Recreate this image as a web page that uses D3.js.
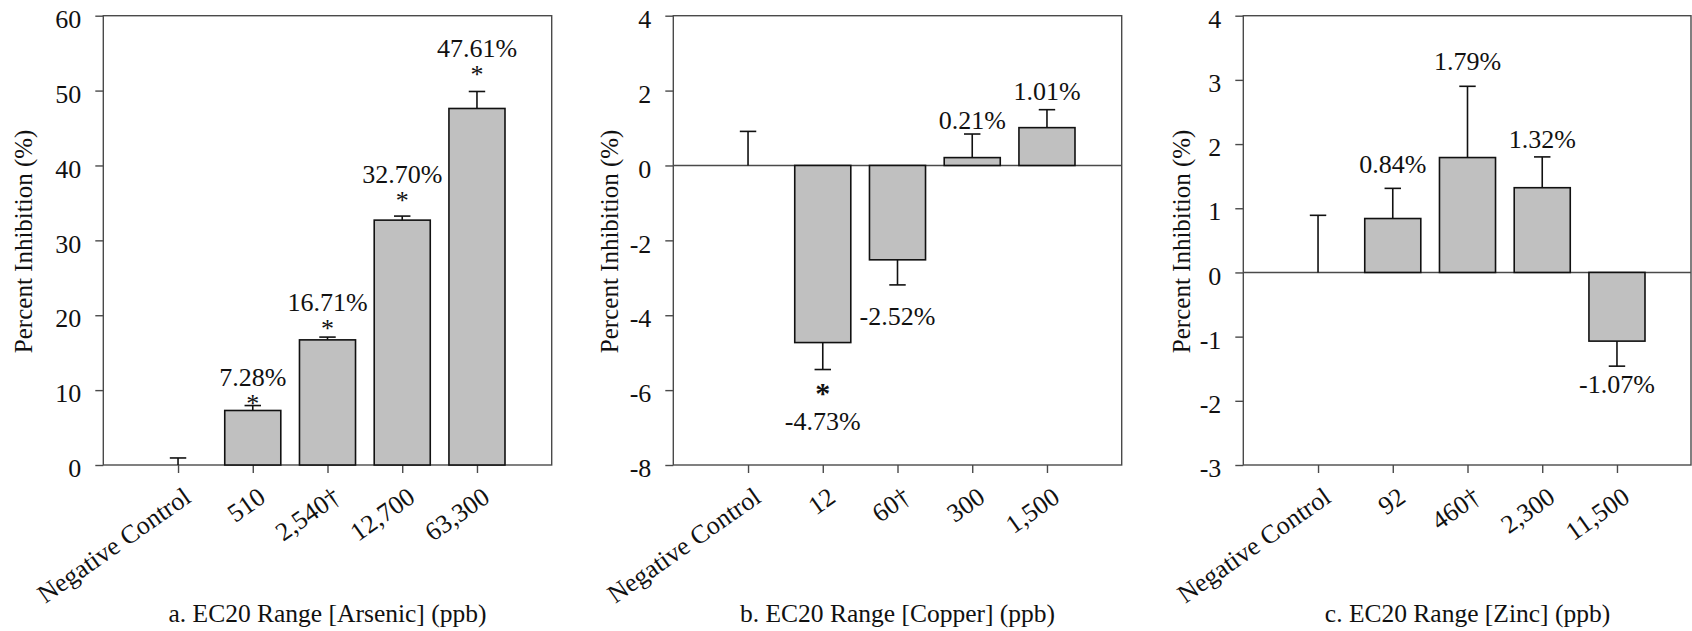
<!DOCTYPE html>
<html>
<head>
<meta charset="utf-8">
<script src="https://cdn.jsdelivr.net/npm/d3@7"></script>
<style>
  html, body { margin: 0; padding: 0; background: #fff; }
  svg { display: block; }
  svg text { font-family: "Liberation Serif", "Times New Roman", Times, "DejaVu Serif", serif !important; fill: #111; }
</style>
</head>
<body>
<svg id="chart" width="1692" height="631"></svg>
<script>
// ---------------- DATA ----------------
const categoriesA = ["Negative Control", "510", "2,540\u2020", "12,700", "63,300"];
const valuesA     = [0, 7.28, 16.71, 32.70, 47.61];
const errorsA     = [0.94, 0.66, 0.37, 0.54, 2.27];
const labelsA     = ["", "7.28%", "16.71%", "32.70%", "47.61%"];
const starsA      = [false, true, true, true, true];
const ticksA      = [0, 10, 20, 30, 40, 50, 60];
const titleA      = "a. EC20 Range [Arsenic] (ppb)";

const categoriesB = ["Negative Control", "12", "60\u2020", "300", "1,500"];
const valuesB     = [0, -4.73, -2.52, 0.21, 1.01];
const errorsB     = [0.91, 0.72, 0.67, 0.63, 0.48];
const labelsB     = ["", "-4.73%", "-2.52%", "0.21%", "1.01%"];
const starsB      = [false, true, false, false, false];
const ticksB      = [-8, -6, -4, -2, 0, 2, 4];
const titleB      = "b. EC20 Range [Copper] (ppb)";

const categoriesC = ["Negative Control", "92", "460\u2020", "2,300", "11,500"];
const valuesC     = [0, 0.84, 1.79, 1.32, -1.07];
const errorsC     = [0.89, 0.47, 1.11, 0.48, 0.39];
const labelsC     = ["", "0.84%", "1.79%", "1.32%", "-1.07%"];
const starsC      = [false, false, false, false, false];
const ticksC      = [-3, -2, -1, 0, 1, 2, 3, 4];
const titleC      = "c. EC20 Range [Zinc] (ppb)";

const yTitle = "Percent Inhibition (%)";

// ---------------- LAYOUT ----------------
const FONT = "'Liberation Serif', 'Times New Roman', Times, 'DejaVu Serif', serif";
const plotTop = 15.7, plotBottom = 465, plotWidth = 448.4;
const panels = [
  { left: 103.3, cats: categoriesA, vals: valuesA, errs: errorsA, labels: labelsA, stars: starsA, ticks: ticksA, title: titleA,
    gaps: [0, 20, 26, 33, 34], yTitleOffset: -71, starBold: false },
  { left: 673.3, cats: categoriesB, vals: valuesB, errs: errorsB, labels: labelsB, stars: starsB, ticks: ticksB, title: titleB,
    gaps: [0, 60, 40, 5, 10], yTitleOffset: -55, starBold: true },
  { left: 1243.3, cats: categoriesC, vals: valuesC, errs: errorsC, labels: labelsC, stars: starsC, ticks: ticksC, title: titleC,
    gaps: [0, 15, 16, 9, 27], yTitleOffset: -53, starBold: false }
];

const svg = d3.select("#chart");
const frameColor = "#4a4a4a";

panels.forEach(p => {
  const right = Math.min(p.left + plotWidth, 1691);
  const y = d3.scaleLinear()
    .domain([p.ticks[0], p.ticks[p.ticks.length - 1]])
    .range([plotBottom, plotTop]);
  const x = d3.scalePoint()
    .domain(p.cats)
    .range([p.left, p.left + plotWidth])
    .padding(1);
  const step = x.step();
  const barW = step * 0.75;
  const capW = step * 0.22;

  const g = svg.append("g").attr("font-family", FONT);

  // y axis ticks
  const yAxis = d3.axisLeft(y)
    .tickValues(p.ticks)
    .tickFormat(d => String(d))
    .tickSize(8)
    .tickSizeOuter(0)
    .tickPadding(14);
  const ya = g.append("g").attr("transform", `translate(${p.left},0)`).call(yAxis);
  ya.attr("font-family", FONT).attr("font-size", 26);
  ya.select(".domain").remove();
  ya.selectAll(".tick line").attr("stroke", frameColor).attr("stroke-width", 1.4);
  ya.selectAll(".tick text")
    .attr("dy", "0.45em")
    .attr("fill", "#111");

  // x axis ticks (at bottom)
  const xAxis = d3.axisBottom(x).tickSize(8).tickSizeOuter(0).tickFormat("");
  const xa = g.append("g").attr("transform", `translate(0,${plotBottom})`).call(xAxis);
  xa.select(".domain").remove();
  xa.selectAll(".tick line").attr("stroke", frameColor).attr("stroke-width", 1.4);

  // rotated category labels
  g.selectAll("text.cat")
    .data(p.cats)
    .join("text")
    .attr("class", "cat")
    .attr("transform", d => `translate(${x(d) + 4},${plotBottom + 21}) rotate(-35)`)
    .attr("dy", "0.7em")
    .attr("text-anchor", "end")
    .attr("font-size", 26)
    .text(d => d);

  // frame
  g.append("rect")
    .attr("x", p.left).attr("y", plotTop)
    .attr("width", right - p.left).attr("height", plotBottom - plotTop)
    .attr("fill", "none").attr("stroke", frameColor).attr("stroke-width", 1.4);

  // zero line
  if (p.ticks[0] < 0) {
    g.append("line")
      .attr("x1", p.left).attr("x2", right)
      .attr("y1", y(0)).attr("y2", y(0))
      .attr("stroke", frameColor).attr("stroke-width", 1.4);
  }

  const rows = p.cats.map((c, i) => ({ c, v: p.vals[i], e: p.errs[i], label: p.labels[i], star: p.stars[i], gap: p.gaps[i] }));

  // error bars
  rows.forEach(r => {
    const sign = r.v < 0 ? -1 : 1;
    const y0 = y(r.v), y1 = y(r.v + sign * r.e);
    g.append("line")
      .attr("x1", x(r.c)).attr("x2", x(r.c))
      .attr("y1", y0).attr("y2", y1)
      .attr("stroke", "#111").attr("stroke-width", 1.6);
    g.append("line")
      .attr("x1", x(r.c) - capW / 2).attr("x2", x(r.c) + capW / 2)
      .attr("y1", y1).attr("y2", y1)
      .attr("stroke", "#111").attr("stroke-width", 1.6);
  });

  // bars
  g.selectAll("rect.bar")
    .data(rows.filter(r => r.v !== 0))
    .join("rect")
    .attr("class", "bar")
    .attr("x", r => x(r.c) - barW / 2)
    .attr("width", barW)
    .attr("y", r => y(Math.max(0, r.v)))
    .attr("height", r => Math.abs(y(r.v) - y(0)))
    .attr("fill", "#c0c0c0")
    .attr("stroke", "#111")
    .attr("stroke-width", 1.6);

  // value labels + stars
  rows.filter(r => r.label).forEach(r => {
    const sign = r.v < 0 ? -1 : 1;
    const capY = y(r.v + sign * r.e);
    const base = sign > 0 ? capY - r.gap : capY + r.gap;
    g.append("text")
      .attr("x", x(r.c)).attr("y", base)
      .attr("text-anchor", "middle")
      .attr("font-size", 26)
      .text(r.label);
    if (r.star) {
      g.append("text")
        .attr("x", x(r.c))
        .attr("y", sign > 0 ? base + 26 : base - 27)
        .attr("text-anchor", "middle")
        .attr("font-size", p.starBold ? 30 : 26)
        .attr("font-weight", p.starBold ? "bold" : "normal")
        .text("*");
    }
  });

  // y title
  const cy = (plotTop + plotBottom) / 2 + 1;
  g.append("text")
    .attr("transform", `translate(${p.left + p.yTitleOffset},${cy}) rotate(-90)`)
    .attr("text-anchor", "middle")
    .attr("font-size", 25)
    .text(yTitle);

  // x title
  g.append("text")
    .attr("x", p.left + plotWidth / 2)
    .attr("y", 621.5)
    .attr("text-anchor", "middle")
    .attr("font-size", 25.5)
    .text(p.title);
});
</script>
</body>
</html>
